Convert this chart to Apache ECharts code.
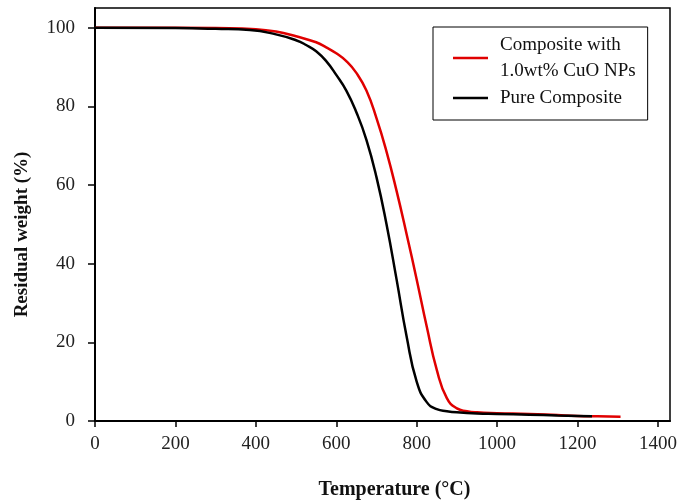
<!DOCTYPE html>
<html>
<head>
<meta charset="utf-8">
<script src="https://cdn.jsdelivr.net/npm/echarts@6/dist/echarts.min.js"></script>
<style>
  html, body { margin: 0; padding: 0; background: #fff; }
  #chart { width: 692px; height: 501px; }
</style>
</head>
<body>
<div id="chart"></div>
<script>
// 数据：温度 (°C) 与残余重量 (%)
var seriesNames = ['Composite with\n1.0wt% CuO NPs', 'Pure Composite'];
var cuoTemp = [0, 200, 300, 400, 450, 500, 550, 575, 600, 625, 650, 675, 700, 725, 750, 775, 800, 825, 850, 875, 900, 925, 950, 1000, 1080, 1150, 1200, 1250, 1307];
var cuoWeight = [100, 100, 99.9, 99.6, 99, 97.8, 96.3, 95, 93.5, 91.5, 88.5, 84, 77, 68.5, 58.5, 47.5, 36, 24, 13, 5.8, 3.2, 2.5, 2.2, 2.0, 1.8, 1.5, 1.3, 1.2, 1.1];
var pureTemp = [0, 200, 300, 385, 450, 500, 525, 550, 575, 600, 625, 650, 675, 700, 725, 750, 775, 800, 825, 850, 875, 900, 950, 1000, 1080, 1150, 1200, 1236];
var pureWeight = [100, 99.9, 99.7, 99.4, 98.3, 96.8, 95.6, 94, 91.5, 88, 84, 78.5, 71.5, 62, 50, 36, 21.5, 10, 4.8, 3, 2.5, 2.2, 1.9, 1.8, 1.6, 1.4, 1.3, 1.2];
var xTicks = [0, 200, 400, 600, 800, 1000, 1200, 1400];
var yTicks = [0, 20, 40, 60, 80, 100];

function pairs(xs, ys) {
  return xs.map(function (x, i) { return [x, ys[i]]; });
}

var font = 'Liberation Serif';
var chart = echarts.init(document.getElementById('chart'));
chart.setOption({
  animation: false,
  backgroundColor: '#fff',
  grid: {
    left: 95, right: 22, top: 8, bottom: 80,
    outerBoundsMode: 'none',
    show: true, borderColor: '#000', borderWidth: 1.5
  },
  legend: {
    data: seriesNames,
    orient: 'vertical',
    left: 433, top: 27,
    padding: [5, 12, 9, 20],
    itemGap: 1,
    itemWidth: 35, itemHeight: 2.5,
    icon: 'rect',
    borderColor: '#000', borderWidth: 1,
    backgroundColor: '#fff',
    textStyle: { fontFamily: font, fontSize: 19, lineHeight: 26, color: '#111', padding: [0, 0, 0, 7] }
  },
  xAxis: {
    type: 'value', min: 0, max: 1430,
    name: 'Temperature (°C)', nameLocation: 'middle', nameGap: 59,
    nameTextStyle: { fontFamily: font, fontSize: 20, fontWeight: 'bold', color: '#111', padding: [0, 0, 0, 24] },
    axisLine: { show: true, lineStyle: { color: '#000', width: 2 } },
    axisTick: { show: true, inside: false, length: 6, customValues: xTicks, lineStyle: { color: '#000', width: 1.5 } },
    axisLabel: { customValues: xTicks, margin: 14, fontFamily: font, fontSize: 19, color: '#222',
      formatter: function (v) { return String(v); } },
    splitLine: { show: false }
  },
  yAxis: {
    type: 'value', min: 0, max: 105,
    name: 'Residual weight (%)', nameLocation: 'middle', nameGap: 63,
    nameTextStyle: { fontFamily: font, fontSize: 19, fontWeight: 'bold', color: '#111', padding: [0, 40, 0, 0] },
    axisLine: { show: true, lineStyle: { color: '#000', width: 2 } },
    axisTick: { show: true, inside: false, length: 7, customValues: yTicks, lineStyle: { color: '#000', width: 1.5 } },
    axisLabel: { customValues: yTicks, margin: 20, fontFamily: font, fontSize: 19, color: '#222' },
    splitLine: { show: false }
  },
  series: [
    {
      name: seriesNames[0], type: 'line', symbol: 'none', smooth: 0.5,
      lineStyle: { color: '#e00000', width: 2.5 }, itemStyle: { color: '#e00000' },
      data: pairs(cuoTemp, cuoWeight)
    },
    {
      name: seriesNames[1], type: 'line', symbol: 'none', smooth: 0.5,
      lineStyle: { color: '#000', width: 2.5 }, itemStyle: { color: '#000' },
      data: pairs(pureTemp, pureWeight)
    }
  ]
});
</script>
</body>
</html>
